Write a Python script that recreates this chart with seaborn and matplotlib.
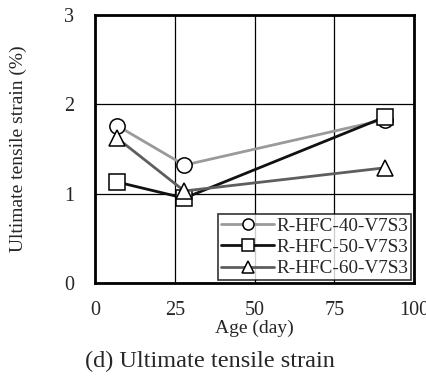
import pandas as pd
import numpy as np
import seaborn as sns
import matplotlib.pyplot as plt

# Datos
ages = [7, 28, 91]
strain_40 = [1.76, 1.32, 1.83]
strain_50 = [1.13, 0.95, 1.86]
strain_60 = [1.62, 1.03, 1.29]
series = ['R-HFC-40-V7S3', 'R-HFC-50-V7S3', 'R-HFC-60-V7S3']

df = pd.DataFrame({
    'Age': ages * 3,
    'Strain': strain_40 + strain_50 + strain_60,
    'Serie': [s for s in series for _ in ages],
})

sns.set_style('white')
plt.rcParams['font.family'] = ['Liberation Serif', 'DejaVu Serif']

fig = plt.figure(figsize=(4.27, 3.78), dpi=100)
ax = fig.add_axes([0.2225, 0.2513, 0.7471, 0.709])

palette = {series[0]: '#9a9a9a', series[1]: '#111111', series[2]: '#5e5e5e'}
markers = {series[0]: 'o', series[1]: 's', series[2]: '^'}

sns.lineplot(data=df, x='Age', y='Strain', hue='Serie', style='Serie',
             palette=palette, markers=markers, dashes=False, lw=2,
             markersize=11, markerfacecolor='white', markeredgecolor='black',
             markeredgewidth=1.1, ax=ax, zorder=3)

ax.set_xlim(0, 100)
ax.set_ylim(0, 3)
ax.set_xticks([0, 25, 50, 75, 100])
ax.set_yticks([0, 1, 2, 3])
ax.grid(True, color='black', lw=0.9)
ax.tick_params(length=0, labelsize=14.5, pad=13)
ax.tick_params(axis='y', pad=15)
for sp in ax.spines.values():
    sp.set_color('black')
    sp.set_linewidth(2)

ax.set_xlabel('Age (day)', fontsize=14, labelpad=0)
ax.set_ylabel('Ultimate tensile strain (%)', fontsize=14, labelpad=27)

leg = ax.legend(loc='lower right', fontsize=13.8, frameon=True, fancybox=False,
                borderaxespad=0.15, handlelength=2.8, handletextpad=0.1,
                labelspacing=0.2, borderpad=0.15)
leg.get_frame().set_edgecolor('black')
leg.get_frame().set_linewidth(1.2)
for h in leg.legend_handles:
    h.set_markersize(8)

fig.text(0.492, 0.03, '(d) Ultimate tensile strain', ha='center', fontsize=17.5)

plt.savefig('out.png', dpi=100)
